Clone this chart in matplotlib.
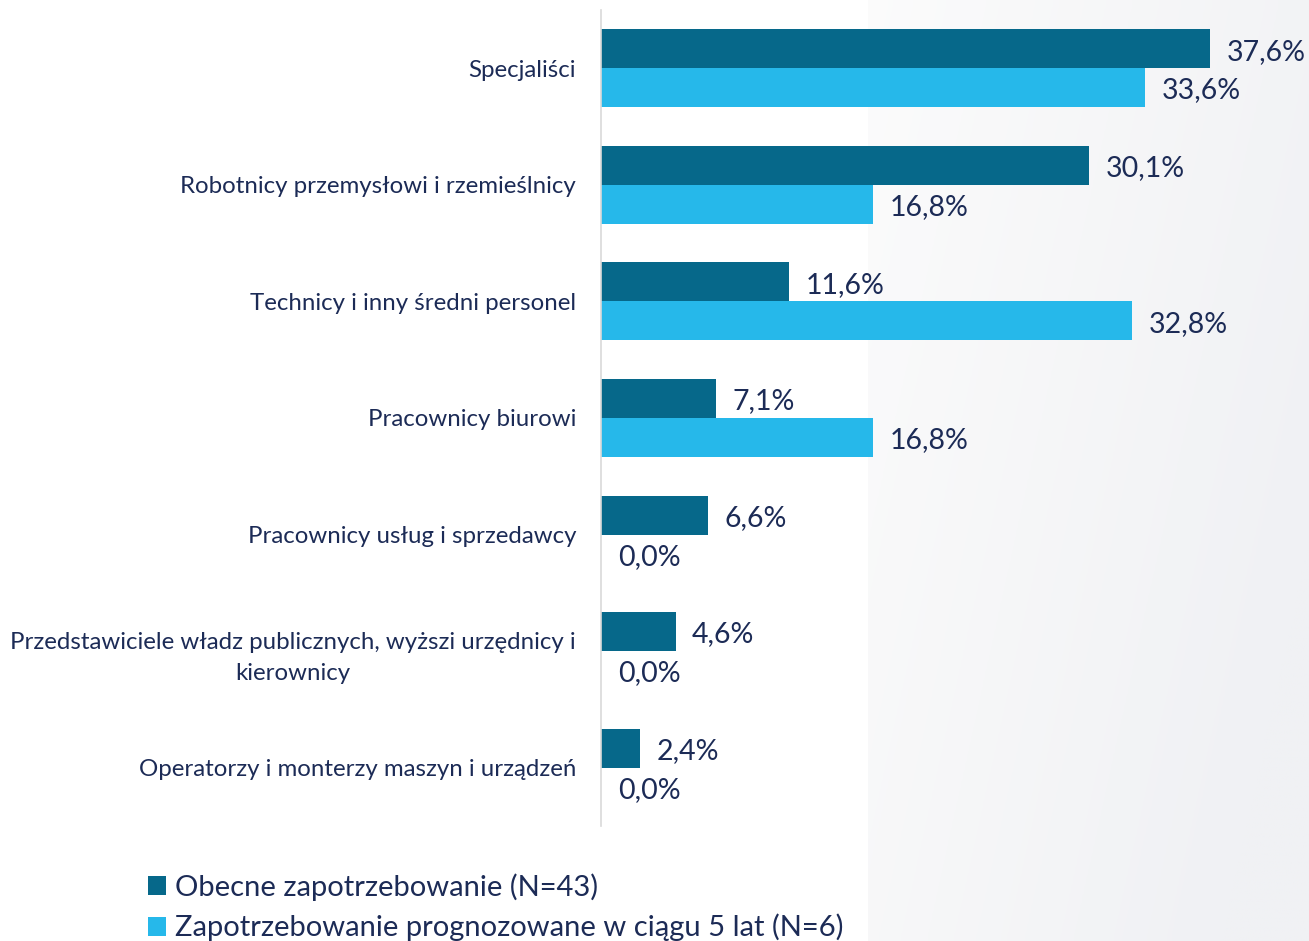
import matplotlib
matplotlib.use("Agg")
import matplotlib.pyplot as plt
import numpy as np
from matplotlib.patches import Patch

categories = [
    "Specjaliści",
    "Robotnicy przemysłowi i rzemieślnicy",
    "Technicy i inny średni personel",
    "Pracownicy biurowi",
    "Pracownicy usług i sprzedawcy",
    "Przedstawiciele władz publicznych, wyższi urzędnicy i\nkierownicy",
    "Operatorzy i monterzy maszyn i urządzeń",
]
current = [37.6, 30.1, 11.6, 7.1, 6.6, 4.6, 2.4]
forecast = [33.6, 16.8, 32.8, 16.8, 0.0, 0.0, 0.0]
series_names = ["Obecne zapotrzebowanie (N=43)",
                "Zapotrzebowanie prognozowane w ciągu 5 lat (N=6)"]

DARK = "#06688A"
LIGHT = "#26B8EA"
TXT = "#1C2B56"

plt.rcParams['font.family'] = ['Lato', 'DejaVu Sans']

W, H = 1309, 941
fig = plt.figure(figsize=(W / 100, H / 100), dpi=100)
fig.patch.set_facecolor("white")

# background gradient panel on the right
bg = fig.add_axes([868 / W, 0, 1 - 868 / W, 1], zorder=0)
gx = np.linspace(0, 1, 200)
gy = np.linspace(0, 1, 100)
GX, GY = np.meshgrid(gx, gy)
val = np.clip(0.75 * GX + 0.35 * GY + 0.05, 0, 1)
c0 = np.array([252, 252, 252]) / 255
c1 = np.array([240, 241, 244]) / 255
img = c0[None, None, :] * (1 - val[..., None]) + c1[None, None, :] * val[..., None]
bg.imshow(img, aspect="auto", extent=[0, 1, 0, 1], origin="upper")
bg.axis("off")

left = 601 / W
bottom = (H - 826) / H
height = 816 / H
ax = fig.add_axes([left, bottom, 1 - left, height], zorder=1)
ax.patch.set_alpha(0)

n = len(categories)
y = np.arange(n)
bh = 0.334
ax.barh(y - bh / 2, current, height=bh, color=DARK, edgecolor="none")
ax.barh(y + bh / 2, forecast, height=bh, color=LIGHT, edgecolor="none")

xmax = (W - 601) / 16.2
ax.set_xlim(0, xmax)
ax.set_ylim(n - 0.5, -0.5)

for yi, v in zip(y, current):
    ax.annotate(f"{v:.1f}%".replace(".", ","), (v, yi - bh / 2),
                xytext=(12, -2), textcoords="offset points",
                va="center", ha="left", fontsize=20.5, color=TXT)
for yi, v in zip(y, forecast):
    ax.annotate(f"{v:.1f}%".replace(".", ","), (v, yi + bh / 2),
                xytext=(12, -2), textcoords="offset points",
                va="center", ha="left", fontsize=20.5, color=TXT)

ax.set_yticks(y)
ax.set_yticklabels(categories, fontsize=17.3, color=TXT,
                   multialignment="center", linespacing=1.6)
ax.tick_params(axis="y", length=0, pad=18)
ax.set_xticks([])
for s in ["top", "right", "bottom"]:
    ax.spines[s].set_visible(False)
ax.spines["left"].set_color("#D9D9D9")
ax.spines["left"].set_linewidth(1.2)

handles = [Patch(facecolor=DARK, edgecolor="none"),
           Patch(facecolor=LIGHT, edgecolor="none")]
fig.legend(handles, series_names, loc="upper left",
           bbox_to_anchor=(148 / W, 1 - 873 / H), frameon=False,
           fontsize=21, labelcolor=TXT, handlelength=0.62, handleheight=0.62,
           handletextpad=0.3, labelspacing=0.45, borderpad=0, borderaxespad=0)

fig.savefig("out.png", dpi=100, facecolor="white")
